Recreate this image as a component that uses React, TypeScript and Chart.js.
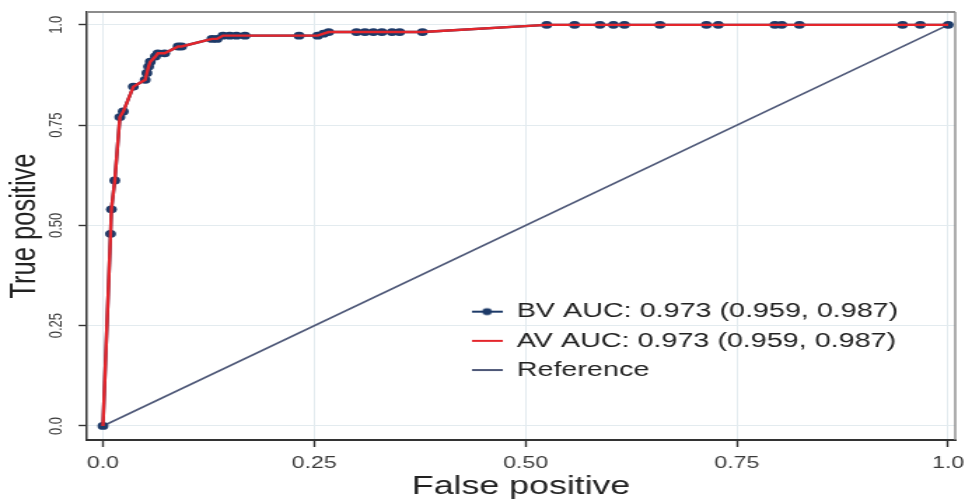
import React, { useEffect, useRef } from 'react';
import { Chart, registerables } from 'chart.js';

Chart.register(...registerables);

// ---- data ----
const FPR = [
  0, 0.009, 0.010, 0.014, 0.020, 0.024, 0.036, 0.050, 0.052, 0.054, 0.056, 0.062, 0.065, 0.073, 0.089, 0.093,
  0.129, 0.135, 0.142, 0.150, 0.158, 0.168, 0.232, 0.254, 0.261, 0.267,
  0.300, 0.310, 0.320, 0.330, 0.342, 0.351, 0.378,
  0.525, 0.558, 0.588, 0.604, 0.617, 0.659, 0.714, 0.728, 0.795, 0.803, 0.824, 0.946, 0.967, 1.0,
];
const TPR = [
  0, 0.479, 0.540, 0.612, 0.770, 0.784, 0.846, 0.863, 0.880, 0.896, 0.908, 0.921, 0.929, 0.929, 0.946, 0.946,
  0.965, 0.965, 0.973, 0.973, 0.973, 0.973, 0.973, 0.973, 0.978, 0.982,
  0.982, 0.982, 0.982, 0.982, 0.982, 0.982, 0.982,
  1.0, 1.0, 1.0, 1.0, 1.0, 1.0, 1.0, 1.0, 1.0, 1.0, 1.0, 1.0, 1.0, 1.0,
];
const REF_X = [0, 1];
const REF_Y = [0, 1];
const X_TICKS = [0, 0.25, 0.5, 0.75, 1];
const X_TICK_LABELS = ['0.0', '0.25', '0.50', '0.75', '1.0'];
const Y_TICKS = [0, 0.25, 0.5, 0.75, 1];
const Y_TICK_LABELS = ['0.0', '0.25', '0.50', '0.75', '1.0'];
const SERIES_LABELS = ['BV AUC: 0.973 (0.959, 0.987)', 'AV AUC: 0.973 (0.959, 0.987)', 'Reference'];
const X_TITLE = 'False positive';
const Y_TITLE = 'True positive';

// ---- styling ----
const W = 689;
const H = 502;
const CSS_W = 965;
const NAVY = '#1d3a68';
const RED = '#e4262c';
const REF = '#4d5777';
const GRID = '#e3ebef';
const AXIS = '#333333';
const FONT = '"Liberation Sans", Arial, sans-serif';

function symbol(color: string, dot: boolean) {
  const c = document.createElement('canvas');
  c.width = 22;
  c.height = 10;
  const g = c.getContext('2d')!;
  g.strokeStyle = color;
  g.lineWidth = 2;
  g.beginPath();
  g.moveTo(0, 5);
  g.lineTo(22, 5);
  g.stroke();
  if (dot) {
    g.fillStyle = color;
    g.beginPath();
    g.arc(11, 5, 3.4, 0, Math.PI * 2);
    g.fill();
  }
  return c;
}

export default function App() {
  const ref = useRef<HTMLCanvasElement | null>(null);

  useEffect(() => {
    if (!ref.current) return;
    const roc = FPR.map((x, i) => ({ x, y: TPR[i] }));
    const refLine = REF_X.map((x, i) => ({ x, y: REF_Y[i] }));
    const symbols = [symbol(NAVY, true), symbol(RED, false), symbol(REF, false)];

    const frame = {
      id: 'frame',
      beforeDatasetsDraw(chart: any) {
        const { ctx, chartArea: a } = chart;
        ctx.save();
        ctx.strokeStyle = '#8c8c8c';
        ctx.lineWidth = 2;
        ctx.beginPath();
        ctx.moveTo(a.left, a.top);
        ctx.lineTo(a.right, a.top);
        ctx.stroke();
        ctx.lineWidth = 1.4;
        ctx.beginPath();
        ctx.moveTo(a.right, a.top);
        ctx.lineTo(a.right, a.bottom);
        ctx.stroke();
        ctx.restore();
      },
    };
    const legendPlace = {
      id: 'legendPlace',
      afterLayout(chart: any) {
        const lg = chart.legend;
        if (!lg) return;
        const w = lg.width;
        const h = lg.height;
        lg.left = 328;
        lg.top = 292.7;
        lg.right = lg.left + w;
        lg.bottom = lg.top + h;
      },
    };

    const chart = new Chart(ref.current, {
      type: 'scatter',
      data: {
        datasets: [
          {
            label: SERIES_LABELS[0],
            data: roc,
            showLine: true,
            borderColor: NAVY,
            borderWidth: 2.4,
            pointRadius: 3.9,
            pointBackgroundColor: NAVY,
            pointBorderColor: NAVY,
            pointBorderWidth: 0,
            order: 1,
          },
          {
            label: SERIES_LABELS[1],
            data: roc,
            showLine: true,
            borderColor: RED,
            borderWidth: 2.4,
            pointRadius: 0,
            order: 0,
          },
          {
            label: SERIES_LABELS[2],
            data: refLine,
            showLine: true,
            borderColor: REF,
            borderWidth: 1.6,
            pointRadius: 0,
            order: 2,
          },
        ],
      },
      plugins: [frame, legendPlace],
      options: {
        animation: false,
        responsive: false,
        devicePixelRatio: 1,
        events: [],
        layout: { padding: { left: 0, right: 7, top: 12, bottom: 0 } },
        plugins: {
          tooltip: { enabled: false },
          title: { display: false },
          legend: {
            display: true,
            position: 'chartArea',
            align: 'start',
            labels: {
              usePointStyle: true,
              pointStyleWidth: 22,
              padding: 8.7,
              color: '#222222',
              font: { family: FONT, size: 20.5 },
              generateLabels: () =>
                SERIES_LABELS.map((text, i) => ({
                  text,
                  datasetIndex: i,
                  hidden: false,
                  pointStyle: symbols[i] as any,
                  fillStyle: 'transparent',
                  strokeStyle: 'transparent',
                  lineWidth: 0,
                  fontColor: '#222222',
                })),
            },
          },
        },
        scales: {
          x: {
            type: 'linear',
            position: 'bottom',
            min: -0.0189,
            max: 1.0083,
            afterBuildTicks: (s: any) => {
              s.ticks = X_TICKS.map((v) => ({ value: v }));
            },
            afterFit: (s: any) => {
              s.height = 62;
              s.paddingLeft = 0;
              s.paddingRight = 0;
            },
            border: { display: true, color: AXIS, width: 2 },
            grid: {
              color: GRID,
              lineWidth: 1,
              drawTicks: true,
              tickLength: 7,
              tickColor: AXIS,
              tickWidth: 1.4,
            },
            ticks: {
              padding: 7,
              color: '#3a3a3a',
              font: { family: FONT, size: 16.5 },
              maxRotation: 0,
              minRotation: 0,
              autoSkip: false,
              callback: (_v: any, i: number) => X_TICK_LABELS[i],
            },
            title: {
              display: true,
              text: X_TITLE,
              color: '#222222',
              font: { family: FONT, size: 25.5 },
              padding: { top: 0, bottom: 0 },
            },
          },
          y: {
            type: 'linear',
            position: 'left',
            min: -0.035,
            max: 1.032,
            afterBuildTicks: (s: any) => {
              s.ticks = Y_TICKS.map((v) => ({ value: v }));
            },
            afterFit: (s: any) => {
              s.width = 62.1;
              s.paddingTop = 0;
              s.paddingBottom = 0;
            },
            border: { display: true, color: AXIS, width: 1.5 },
            grid: {
              color: GRID,
              lineWidth: 1,
              drawTicks: true,
              tickLength: 6,
              tickColor: AXIS,
              tickWidth: 1.4,
            },
            ticks: {
              padding: 2.75,
              color: '#3a3a3a',
              font: { family: FONT, size: 13 },
              minRotation: 90,
              maxRotation: 90,
              crossAlign: 'center',
              autoSkip: false,
              callback: (_v: any, i: number) => Y_TICK_LABELS[i],
            },
            title: {
              display: true,
              text: Y_TITLE,
              color: '#222222',
              font: { family: FONT, size: 25.5 },
              padding: { top: 2.6, bottom: 0 },
            },
          },
        },
      } as any,
    });
    return () => chart.destroy();
  }, []);

  return (
    <canvas
      ref={ref}
      width={W}
      height={H}
      style={{ position: 'absolute', left: 0, top: 0, width: `${CSS_W}px`, height: `${H}px` }}
    />
  );
}
